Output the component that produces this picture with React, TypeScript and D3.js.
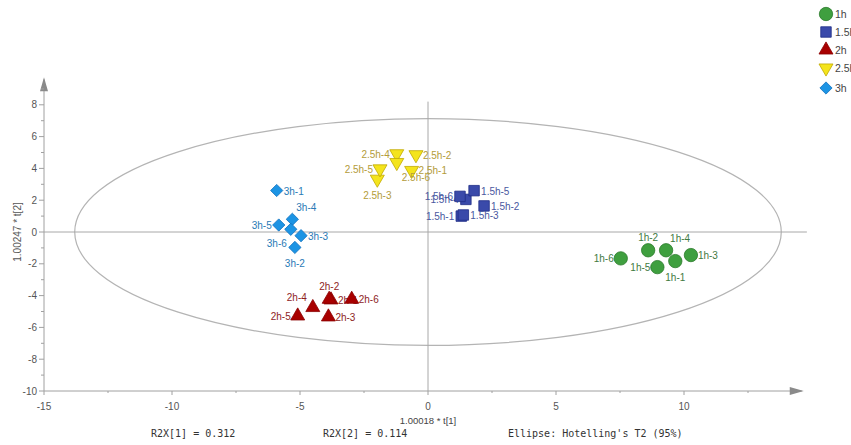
import React from "react";
import * as d3 from "d3";

// ---------- data ----------
const groups = ["1h", "1.5h", "2h", "2.5h", "3h"];

const names1h = ["1h-1", "1h-2", "1h-3", "1h-4", "1h-5", "1h-6"];
const t1_1h = [9.66, 8.6, 10.27, 9.3, 8.96, 7.53];
const t2_1h = [-1.83, -1.15, -1.45, -1.15, -2.21, -1.66];

const names15h = ["1.5h-1", "1.5h-2", "1.5h-3", "1.5h-4", "1.5h-5", "1.5h-6"];
const t1_15h = [1.3, 2.19, 1.38, 1.48, 1.8, 1.25];
const t2_15h = [1.0, 1.64, 1.07, 2.05, 2.6, 2.24];

const names2h = ["2h-1", "2h-2", "2h-3", "2h-4", "2h-5", "2h-6"];
const t1_2h = [-3.79, -3.86, -3.89, -4.5, -5.09, -2.98];
const t2_2h = [-4.27, -4.23, -5.34, -4.75, -5.28, -4.23];

const names25h = ["2.5h-1", "2.5h-2", "2.5h-3", "2.5h-4", "2.5h-5", "2.5h-6"];
const t1_25h = [-0.64, -0.47, -1.98, -1.22, -1.875, -1.22];
const t2_25h = [3.87, 4.86, 3.32, 4.92, 3.97, 4.37];

const names3h = ["3h-1", "3h-2", "3h-3", "3h-4", "3h-5", "3h-6"];
const t1_3h = [-5.91, -5.2, -4.96, -5.3, -5.83, -5.36];
const t2_3h = [2.61, -0.97, -0.23, 0.8, 0.44, 0.17];

// label placement direction for each observation
const labelDir: Record<string, string> = {
  "1h-1": "b", "1h-2": "t", "1h-3": "r", "1h-4": "tr", "1h-5": "l", "1h-6": "l",
  "1.5h-1": "l", "1.5h-2": "r", "1.5h-3": "r", "1.5h-4": "l", "1.5h-5": "r", "1.5h-6": "l",
  "2h-1": "r", "2h-2": "t", "2h-3": "r", "2h-4": "tl", "2h-5": "l", "2h-6": "r",
  "2.5h-1": "r", "2.5h-2": "r", "2.5h-3": "b", "2.5h-4": "l", "2.5h-5": "l", "2.5h-6": "br",
  "3h-1": "r", "3h-2": "b", "3h-3": "r", "3h-4": "tr", "3h-5": "l", "3h-6": "bl",
};

const xTicks = [-15, -10, -5, 0, 5, 10];
const yTicks = [-10, -8, -6, -4, -2, 0, 2, 4, 6, 8];
const ellipseRadii = [13.8, 7.13];
const footer = ["R2X[1] = 0.312", "R2X[2] = 0.114", "Ellipse: Hotelling's T2 (95%)"];
const xTitle = "1.00018 * t[1]";
const yTitle = "1.00247 * t[2]";

// ---------- styles ----------
const styles: Record<string, { shape: string; fill: string; stroke: string; text: string }> = {
  "1h": { shape: "circle", fill: "#3f9f3f", stroke: "#2b7a2b", text: "#3f7a3f" },
  "1.5h": { shape: "square", fill: "#3a4aaa", stroke: "#1f2d86", text: "#4a58a0" },
  "2h": { shape: "triangle", fill: "#a80000", stroke: "#8a0000", text: "#8e1e1e" },
  "2.5h": { shape: "triangleDown", fill: "#f4e41c", stroke: "#c0a800", text: "#b39c3a" },
  "3h": { shape: "diamond", fill: "#1c94e4", stroke: "#1474c0", text: "#2a7ab6" },
};

const FONT = "'Liberation Sans', Arial, sans-serif";

function markerPath(shape: string): { d: string; rot: number } {
  const gen = d3.symbol();
  switch (shape) {
    case "circle":
      return { d: gen.type(d3.symbolCircle).size(140)() as string, rot: 0 };
    case "square":
      return { d: gen.type(d3.symbolSquare).size(110)() as string, rot: 0 };
    case "triangle":
      return { d: gen.type(d3.symbolTriangle).size(85)() as string, rot: 0 };
    case "triangleDown":
      return { d: gen.type(d3.symbolTriangle).size(85)() as string, rot: 180 };
    default:
      return { d: gen.type(d3.symbolSquare).size(75)() as string, rot: 45 };
  }
}

function labelOffset(dir: string) {
  switch (dir) {
    case "r": return { dx: 7, dy: 4, anchor: "start" };
    case "l": return { dx: -7, dy: 4, anchor: "end" };
    case "t": return { dx: 0, dy: -9, anchor: "middle" };
    case "b": return { dx: 0, dy: 20, anchor: "middle" };
    case "tr": return { dx: 4, dy: -8, anchor: "start" };
    case "tl": return { dx: -6, dy: -7, anchor: "end" };
    case "br": return { dx: 5, dy: 18, anchor: "start" };
    case "bl": return { dx: -4, dy: 18, anchor: "end" };
    default: return { dx: 7, dy: 4, anchor: "start" };
  }
}

export default function App() {
  const W = 851;
  const H = 445;
  const x = d3.scaleLinear().domain([-15, 15]).range([44, 812]);
  const y = d3.scaleLinear().domain([-10, 10]).range([391, 73]);

  const series = [
    { g: "1h", names: names1h, t1: t1_1h, t2: t2_1h },
    { g: "1.5h", names: names15h, t1: t1_15h, t2: t2_15h },
    { g: "2h", names: names2h, t1: t1_2h, t2: t2_2h },
    { g: "2.5h", names: names25h, t1: t1_25h, t2: t2_25h },
    { g: "3h", names: names3h, t1: t1_3h, t2: t2_3h },
  ];

  const xMinor = d3.range(-15, 15, 2.5).filter((v) => !xTicks.includes(v));
  const yMinor = d3.range(-9, 10, 2);

  const axisColor = "#a0a0a0";
  const cx = x(0);
  const cy = y(0);

  return (
    <svg
      width={W}
      height={H}
      style={{ position: "absolute", left: 0, top: 0, background: "#fff" }}
      fontFamily={FONT}
    >
      <rect width={W} height={H} fill="#fff" />
      {/* Hotelling ellipse */}
      <ellipse
        cx={cx}
        cy={cy}
        rx={x(ellipseRadii[0]) - x(0)}
        ry={y(0) - y(ellipseRadii[1])}
        fill="none"
        stroke="#b4b4b4"
        strokeWidth={1.2}
      />
      {/* center lines */}
      <line x1={cx} x2={cx} y1={y(8.2)} y2={y(-10)} stroke="#a8a8a8" strokeWidth={1} />
      <line x1={x(-15)} x2={x(14.8)} y1={cy} y2={cy} stroke="#a8a8a8" strokeWidth={1} />

      {/* axes */}
      <line x1={x(-15)} x2={x(14.6)} y1={y(-10)} y2={y(-10)} stroke={axisColor} strokeWidth={1} />
      <path
        d={`M${x(14.6) - 12},${y(-10) - 4}L${x(14.6) + 2},${y(-10)}L${x(14.6) - 12},${y(-10) + 4}Z`}
        fill="#8a8a8a"
      />
      <line x1={x(-15)} x2={x(-15)} y1={y(-10)} y2={y(9.6)} stroke={axisColor} strokeWidth={1} />
      <path
        d={`M${x(-15) - 4},${y(9.6) + 12}L${x(-15)},${y(9.6) - 2}L${x(-15) + 4},${y(9.6) + 12}Z`}
        fill="#8a8a8a"
      />
      {xTicks.map((t) => (
        <g key={"xt" + t}>
          <line x1={x(t)} x2={x(t)} y1={y(-10)} y2={y(-10) + 4} stroke={axisColor} />
          <text x={x(t)} y={y(-10) + 19} fontSize={10} fill="#555" textAnchor="middle">
            {t}
          </text>
        </g>
      ))}
      {xMinor.map((t) => (
        <line key={"xm" + t} x1={x(t)} x2={x(t)} y1={y(-10)} y2={y(-10) + 2} stroke={axisColor} />
      ))}
      {yTicks.map((t) => (
        <g key={"yt" + t}>
          <line x1={x(-15) - 5} x2={x(-15)} y1={y(t)} y2={y(t)} stroke={axisColor} />
          <text x={x(-15) - 7} y={y(t) + 3.5} fontSize={10} fill="#555" textAnchor="end">
            {t}
          </text>
        </g>
      ))}
      {yMinor.map((t) => (
        <line key={"ym" + t} x1={x(-15) - 3} x2={x(-15)} y1={y(t)} y2={y(t)} stroke={axisColor} />
      ))}

      {/* axis titles */}
      <text x={cx} y={424} fontSize={9.5} fill="#444" textAnchor="middle">
        {xTitle}
      </text>
      <text
        transform={`translate(21,${cy}) rotate(-90)`}
        fontSize={10}
        fill="#555"
        textAnchor="middle"
      >
        {yTitle}
      </text>

      {/* footer */}
      {footer.map((f, i) => (
        <text
          key={f}
          x={[151, 323, 508][i]}
          y={437}
          fontSize={10}
          fontFamily="'DejaVu Sans Mono', 'Liberation Mono', monospace"
          fill="#333"
        >
          {f}
        </text>
      ))}

      {/* observations */}
      {series.map((s) => {
        const st = styles[s.g];
        const m = markerPath(st.shape);
        return (
          <g key={s.g}>
            {s.names.map((n, i) => {
              const px = x(s.t1[i]);
              const py = y(s.t2[i]);
              const o = labelOffset(labelDir[n]);
              return (
                <g key={n}>
                  <path
                    d={m.d}
                    transform={`translate(${px},${py}) rotate(${m.rot})`}
                    fill={st.fill}
                    stroke={st.stroke}
                    strokeWidth={0.8}
                  />
                  <text
                    x={px + o.dx}
                    y={py + o.dy}
                    fontSize={10}
                    fill={st.text}
                    textAnchor={o.anchor}
                  >
                    {n}
                  </text>
                </g>
              );
            })}
          </g>
        );
      })}

      {/* legend */}
      {groups.map((g, i) => {
        const st = styles[g];
        const m = markerPath(st.shape);
        const ly = [14, 32, 50, 68, 88][i];
        return (
          <g key={"lg" + g}>
            <path
              d={m.d}
              transform={`translate(826,${ly}) rotate(${m.rot})`}
              fill={st.fill}
              stroke={st.stroke}
              strokeWidth={0.8}
            />
            <text x={835} y={ly + 4} fontSize={10.5} fill="#444">
              {g}
            </text>
          </g>
        );
      })}
    </svg>
  );
}
